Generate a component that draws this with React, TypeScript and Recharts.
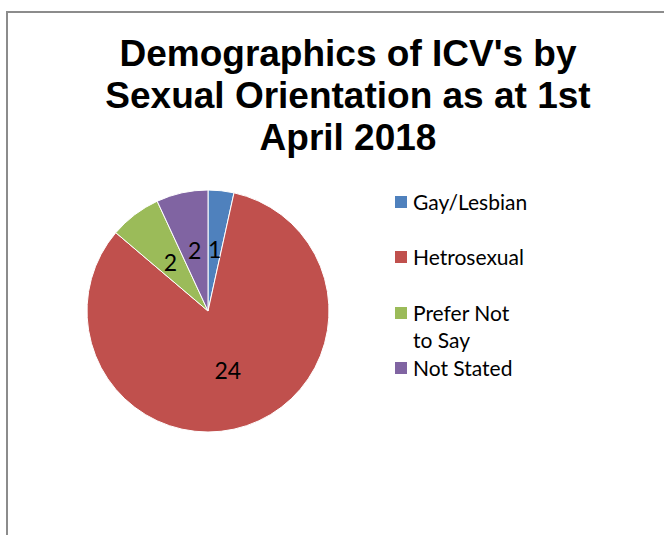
import React from "react";
import { PieChart, Pie, Cell, Legend } from "recharts";

const categories = ["Gay/Lesbian", "Hetrosexual", "Prefer Not to Say", "Not Stated"];
const counts = [1, 24, 2, 2];
const colors = ["#4F81BD", "#C0504D", "#9BBB59", "#8064A2"];
const titleLines = ["Demographics of ICV's by", "Sexual Orientation as at 1st", "April 2018"];

const data = categories.map((name, i) => ({ name, value: counts[i] }));

const RADIAN = Math.PI / 180;

const renderLabel = (props: any) => {
  const { cx, cy, midAngle, value } = props;
  const r = 62;
  const x = cx + r * Math.cos(-midAngle * RADIAN);
  const y = cy + r * Math.sin(-midAngle * RADIAN);
  return (
    <text
      x={x}
      y={y}
      fill="#000"
      textAnchor="middle"
      dominantBaseline="central"
      fontSize={23}
      fontFamily="Lato, 'Open Sans', sans-serif"
    >
      {value}
    </text>
  );
};

const legendGaps = [28, 29, 1, 0];

const renderLegend = () => (
  <div style={{ fontFamily: "Lato, 'Open Sans', sans-serif", fontSize: 21, lineHeight: "27px", color: "#000" }}>
    {categories.map((name, i) => (
      <div key={name} style={{ display: "flex", alignItems: "flex-start", marginBottom: legendGaps[i] }}>
        <span
          style={{
            display: "inline-block",
            width: 12,
            height: 12,
            background: colors[i],
            marginTop: 8,
            marginRight: 6,
            flexShrink: 0,
          }}
        />
        <span style={{ width: 110 }}>{name}</span>
      </div>
    ))}
  </div>
);

const App: React.FC = () => {
  return (
    <div style={{ position: "absolute", left: 0, top: 0, width: 664, height: 535, overflow: "hidden", background: "#fff" }}>
      <div
        style={{
          position: "absolute",
          left: 6,
          top: 11,
          width: 700,
          height: 600,
          borderTop: "2px solid #8c8c8c",
          borderLeft: "2px solid #8c8c8c",
        }}
      />
      <div
        style={{
          position: "absolute",
          left: 48,
          top: 33,
          width: 600,
          textAlign: "center",
          fontFamily: "'Liberation Sans', Arial, sans-serif",
          fontWeight: "bold",
          fontSize: 37,
          lineHeight: "42px",
          color: "#000",
        }}
      >
        {titleLines.map((t) => (
          <div key={t}>{t}</div>
        ))}
      </div>
      <div style={{ position: "absolute", left: 0, top: 0 }}>
        <PieChart width={664} height={535} margin={{ top: 0, right: 0, bottom: 0, left: 0 }}>
          <Pie
            data={data}
            dataKey="value"
            nameKey="name"
            cx={208}
            cy={311}
            outerRadius={121}
            startAngle={90}
            endAngle={-270}
            stroke="#fff"
            strokeWidth={1}
            label={renderLabel}
            labelLine={false}
            isAnimationActive={false}
          >
            {data.map((d, i) => (
              <Cell key={d.name} fill={colors[i]} />
            ))}
          </Pie>
          <Legend
            content={renderLegend}
            wrapperStyle={{ position: "absolute", left: 395, top: 188, width: 150 }}
          />
        </PieChart>
      </div>
    </div>
  );
};

export default App;
